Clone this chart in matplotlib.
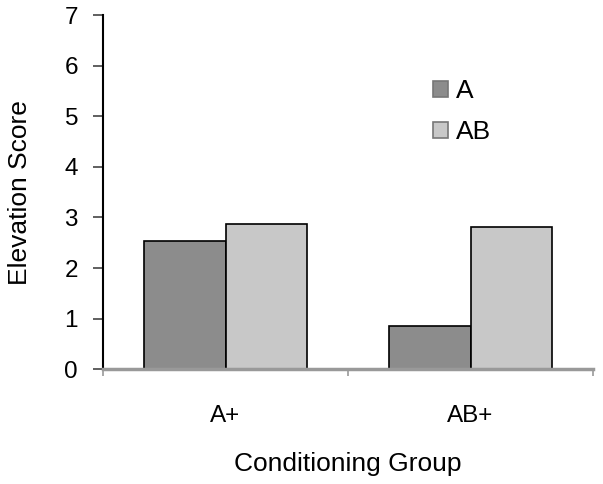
import numpy as np
import matplotlib.pyplot as plt

groups = ['A+', 'AB+']
series = ['A', 'AB']
score_a = [2.54, 0.86]
score_ab = [2.87, 2.82]
y_ticks = [0, 1, 2, 3, 4, 5, 6, 7]

plt.rcParams['font.family'] = ['Liberation Sans', 'DejaVu Sans']

fig = plt.figure(figsize=(6.03, 4.84), dpi=100)
ax = fig.add_axes([103 / 603, 1 - 369.3 / 484, 490 / 603, 354.3 / 484])

x = np.arange(len(groups))
w = 1 / 3
ax.bar(x - w / 2, score_a, w, color='#8c8c8c', edgecolor='black',
       linewidth=1.2, label=series[0])
ax.bar(x + w / 2, score_ab, w, color='#c8c8c8', edgecolor='black',
       linewidth=1.2, label=series[1])

ax.set_xlim(-0.5, len(groups) - 0.5)
ax.set_ylim(0, 7)
ax.set_yticks(y_ticks)
ax.set_xticks(x)
ax.set_xticklabels(groups)
ax.set_xticks(np.arange(len(groups) + 1) - 0.5, minor=True)

for side in ['top', 'right']:
    ax.spines[side].set_visible(False)
ax.spines['left'].set_color('black')
ax.spines['left'].set_linewidth(1.5)
ax.spines['bottom'].set_color('#999999')
ax.spines['bottom'].set_linewidth(2.5)
ax.spines['bottom'].set_zorder(3)

ax.tick_params(axis='y', length=7, width=1.2, color='#444444',
               labelsize=17.5, pad=11)
ax.tick_params(axis='x', which='major', length=0, labelsize=17.5, pad=26)
ax.tick_params(axis='x', which='minor', length=5, width=1.2, color='#999999')

ax.set_ylabel('Elevation Score', fontsize=19, labelpad=23)
ax.set_xlabel('Conditioning Group', fontsize=19, labelpad=18)

leg = ax.legend(loc='upper left', bbox_to_anchor=(420 / 603, 1 - 66 / 484),
                bbox_transform=fig.transFigure, frameon=False, fontsize=19,
                borderpad=0, handlelength=0.55, handleheight=0.55,
                handletextpad=0.3, labelspacing=0.65)
for h in leg.legend_handles:
    h.set_edgecolor('#777777')

fig.savefig('out.png', dpi=100)
